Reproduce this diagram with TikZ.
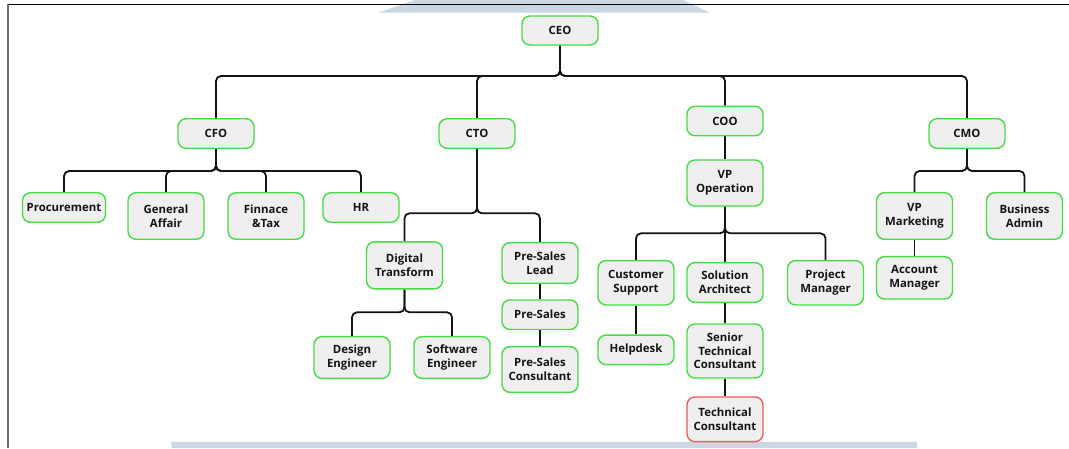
\documentclass[tikz,border=0pt]{standalone}
\usepackage{fontspec}
\newfontfamily\orgfam{Open Sans}
\usetikzlibrary{backgrounds}
\definecolor{boxfill}{HTML}{EFEFEF}
\definecolor{boxgreen}{HTML}{44DD44}
\definecolor{boxred}{HTML}{EE5C5C}
\definecolor{txt}{HTML}{141414}
\definecolor{band}{HTML}{CBD7E2}
\definecolor{framegray}{HTML}{707070}
\newcommand\orgfont{\orgfam\bfseries\fontsize{11.4}{13.6}\selectfont}
\tikzset{
  orgbox/.style={draw=boxgreen, fill=boxfill, line width=1.4pt, rounded corners=8pt,
    minimum width=76pt, minimum height=29.5pt, align=center, font=\orgfont,
    inner sep=2pt, text=txt},
  link/.style={draw=black!92, line width=1.8pt, rounded corners=5pt},
}
\newcommand\orgedge[3]{\draw[link] (#1.south) -- (#1.south |- #2) -| (#3.north);}
\begin{document}
\begin{tikzpicture}[x=1pt,y=-1pt]
\useasboundingbox (0,0) rectangle (1069,448);

% nodes
\node[orgbox, minimum height=29pt] (ceo) at (560,30.5) {CEO};
\node[orgbox] (cfo) at (216,133.5) {CFO};
\node[orgbox] (cto) at (477,133.5) {CTO};
\node[orgbox] (coo) at (725,121) {COO};
\node[orgbox] (cmo) at (967,133.5) {CMO};
\node[orgbox, minimum width=83pt] (proc) at (64,207.5) {Procurement};
\node[orgbox, minimum height=46.5pt] (ga) at (166,216) {General\\Affair};
\node[orgbox, minimum height=46.5pt] (ft) at (266,216) {Finnace\\\&Tax};
\node[orgbox] (hr) at (361,207.5) {HR};
\node[orgbox, minimum height=47pt] (dt) at (404.5,265.3) {Digital\\Transform};
\node[orgbox, minimum height=40.7pt] (psl) at (540,263) {Pre-Sales\\Lead};
\node[orgbox] (ps) at (540,314.7) {Pre-Sales};
\node[orgbox, minimum height=45.7pt] (psc) at (540,369.5) {Pre-Sales\\Consultant};
\node[orgbox, minimum height=41.7pt] (de) at (352,357.5) {Design\\Engineer};
\node[orgbox, minimum height=41.7pt] (se) at (452,357.5) {Software\\Engineer};
\node[orgbox, minimum height=46pt] (vpo) at (725,183) {VP\\Operation};
\node[orgbox, minimum height=44.3pt] (cs) at (636,282.8) {Customer\\Support};
\node[orgbox, minimum height=39.7pt] (sa) at (725,282.5) {Solution\\Architect};
\node[orgbox, minimum height=44.3pt] (pm) at (825.5,282.8) {Project\\Manager};
\node[orgbox] (hd) at (636,349.8) {Helpdesk};
\node[orgbox, minimum height=54pt] (stc) at (725,351) {Senior\\Technical\\Consultant};
\node[orgbox, draw=boxred, minimum height=44.7pt] (tc) at (725,419.3) {Technical\\Consultant};
\node[orgbox, minimum height=46.5pt] (vpm) at (914.5,216) {VP\\Marketing};
\node[orgbox, minimum height=46.5pt] (ba) at (1024.5,216) {Business\\Admin};
\node[orgbox, minimum height=42.3pt] (am) at (914.5,277.8) {Account\\Manager};

% bus levels
\coordinate (busceo) at (0,76);
\coordinate (buscfo) at (0,171);
\coordinate (buscto) at (0,213.3);
\coordinate (buscmo) at (0,171);
\coordinate (busdt) at (0,312.3);
\coordinate (busvpo) at (0,233.3);

\begin{scope}[on background layer]
\fill[white] (0,0) rectangle (1069,448);
% light bands
\fill[band] (378,12.7) -- (415,0) -- (683,0) -- (710,12.7) -- cycle;
\fill[band] (171,441.8) -- (917,441.8) -- (917,448) -- (172,448) -- cycle;
% frame
\draw[black, line width=1.3pt] (7.5,4.5) -- (1069,4.5);
\draw[framegray, line width=2pt] (8.3,4) -- (8.3,448);
% connectors
\orgedge{ceo}{busceo}{cfo}
\orgedge{ceo}{busceo}{cto}
\orgedge{ceo}{busceo}{coo}
\orgedge{ceo}{busceo}{cmo}
\orgedge{cfo}{buscfo}{proc}
\orgedge{cfo}{buscfo}{ga}
\orgedge{cfo}{buscfo}{ft}
\orgedge{cfo}{buscfo}{hr}
\orgedge{cto}{buscto}{dt}
\orgedge{cto}{buscto}{psl}
\orgedge{dt}{busdt}{de}
\orgedge{dt}{busdt}{se}
\draw[link] (psl.south) -- (ps.north);
\draw[link] (ps.south) -- (psc.north);
\draw[link] (coo.south) -- (vpo.north);
\orgedge{vpo}{busvpo}{cs}
\draw[link] (vpo.south) -- (sa.north);
\orgedge{vpo}{busvpo}{pm}
\draw[link] (cs.south) -- (hd.north);
\draw[link] (sa.south) -- (stc.north);
\draw[link] (stc.south) -- (tc.north);
\orgedge{cmo}{buscmo}{vpm}
\orgedge{cmo}{buscmo}{ba}
\draw[link] (vpm.south) -- (am.north);
\end{scope}
\end{tikzpicture}
\end{document}
